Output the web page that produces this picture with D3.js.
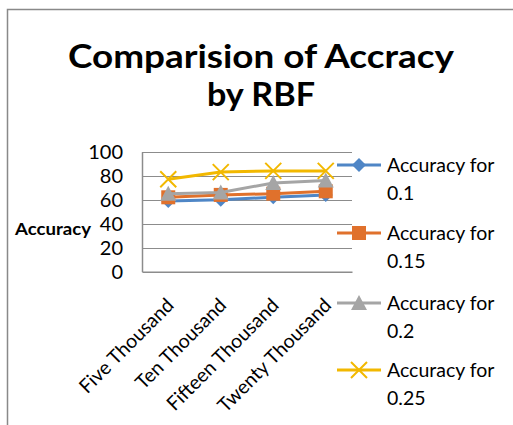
<!DOCTYPE html>
<html><head><meta charset="utf-8">
<script src="https://cdn.jsdelivr.net/npm/d3@7"></script>
<style>body{margin:0;background:#fff}svg{display:block}text{font-family:Lato,"Open Sans",sans-serif}</style>
</head><body><svg id="c" width="513" height="425"></svg>
<script>
const categories = ["Five Thousand","Ten Thousand","Fifteen Thousand","Twenty Thousand"];
const seriesNames = ["Accuracy for 0.1","Accuracy for 0.15","Accuracy for 0.2","Accuracy for 0.25"];
const acc01  = [59, 60, 62, 64];
const acc015 = [62, 64, 65, 67];
const acc02  = [65, 66, 74, 76];
const acc025 = [77, 83, 84, 84];
const yTicks = [0, 20, 40, 60, 80, 100];
const colors = ["#4F86C6","#E0712C","#A5A5A5","#F2B800"];
const markers = ["diamond","square","triangle","x"];
const seriesValues = [acc01, acc015, acc02, acc025];

const svg = d3.select("#c");
svg.append("rect").attr("x",7.5).attr("y",9.5).attr("width",520).attr("height",430)
  .attr("fill","#fff").attr("stroke","#898989").attr("stroke-width",1.5);

const L=142, R=352, T=151.7, B=271.7;
const x = d3.scaleBand().domain(categories).range([L,R]);
const y = d3.scaleLinear().domain([0,100]).range([B,T]);

// title
svg.append("text").attr("x",261).attr("y",68).attr("text-anchor","middle")
  .attr("font-weight","bold").attr("font-size",32).attr("textLength",386).attr("lengthAdjust","spacingAndGlyphs")
  .text("Comparision of Accracy");
svg.append("text").attr("x",261).attr("y",106).attr("text-anchor","middle")
  .attr("font-weight","bold").attr("font-size",32).attr("textLength",108).attr("lengthAdjust","spacingAndGlyphs")
  .text("by RBF");

// gridlines
svg.append("g").selectAll("line").data(yTicks.filter(d=>d>0)).join("line")
  .attr("x1",L).attr("x2",R).attr("y1",d=>Math.round(y(d))+0.5).attr("y2",d=>Math.round(y(d))+0.5)
  .attr("stroke","#8c8c8c").attr("stroke-width",1.2);

// y axis
const ya = svg.append("g").attr("transform",`translate(${L},0)`)
  .call(d3.axisLeft(y).tickValues(yTicks).tickSize(0).tickPadding(19));
ya.select(".domain").attr("stroke","#8c8c8c").attr("stroke-width",1.5);
ya.selectAll("text").attr("font-size",20).attr("fill","#000").attr("font-family","Lato,sans-serif");

// x axis
const xa = svg.append("g").attr("transform",`translate(0,${B})`)
  .call(d3.axisBottom(x).tickSize(0).tickFormat(""));
xa.select(".domain").attr("stroke","#8c8c8c").attr("stroke-width",1.5);
svg.append("g").selectAll("text").data(categories).join("text")
  .attr("transform",d=>`translate(${x(d)+x.bandwidth()/2+2},${B+30}) rotate(-45)`)
  .attr("text-anchor","end").attr("dy","0.35em").attr("font-size",19.5).attr("fill","#000")
  .text(d=>d);

// y label
svg.append("text").attr("x",15).attr("y",235).attr("font-weight","bold").attr("font-size",17)
  .attr("textLength",76).attr("lengthAdjust","spacingAndGlyphs").text("Accuracy");

function drawMarker(g, type, cx, cy, color){
  if(type==="diamond"){
    const s=7;
    g.append("path").attr("d",`M${cx},${cy-s}L${cx+s},${cy}L${cx},${cy+s}L${cx-s},${cy}Z`).attr("fill",color);
  } else if(type==="square"){
    g.append("rect").attr("x",cx-7).attr("y",cy-7).attr("width",14).attr("height",14).attr("fill",color);
  } else if(type==="triangle"){
    g.append("path").attr("d",`M${cx},${cy-8}L${cx+8},${cy+7}L${cx-8},${cy+7}Z`).attr("fill",color);
  } else {
    g.append("path").attr("d",`M${cx-8},${cy-8}L${cx+8},${cy+8}M${cx-8},${cy+8}L${cx+8},${cy-8}`)
      .attr("stroke",color).attr("stroke-width",2).attr("fill","none");
  }
}

const line = d3.line().x((d,i)=>x(categories[i])+x.bandwidth()/2).y(d=>y(d));
seriesValues.forEach((vals,si)=>{
  const g = svg.append("g");
  g.append("path").attr("d",line(vals)).attr("fill","none").attr("stroke",colors[si]).attr("stroke-width",3).attr("stroke-linejoin","round");
  vals.forEach((v,i)=>drawMarker(g, markers[si], x(categories[i])+x.bandwidth()/2, y(v), colors[si]));
});

// legend
const legY = [165, 233, 303, 370];
seriesNames.forEach((name,si)=>{
  const g = svg.append("g");
  const cy = legY[si];
  g.append("line").attr("x1",337).attr("x2",381).attr("y1",cy).attr("y2",cy).attr("stroke",colors[si]).attr("stroke-width",3);
  drawMarker(g, markers[si], 359, cy, colors[si]);
  const parts = name.split(" ");
  const last = parts.pop();
  g.append("text").attr("x",387).attr("y",cy).attr("dy","0.35em").attr("font-size",19.5).attr("fill","#000").text(parts.join(" "));
  g.append("text").attr("x",387).attr("y",cy+28).attr("dy","0.35em").attr("font-size",19.5).attr("fill","#000").text(last);
});
</script></body></html>
